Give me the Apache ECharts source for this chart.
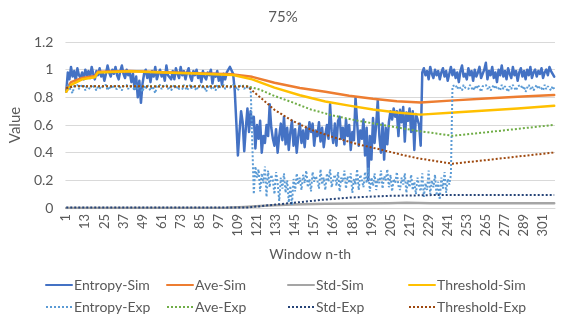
<!DOCTYPE html>
<html>
<head>
<meta charset="utf-8">
<script src="https://cdn.jsdelivr.net/npm/echarts@6/dist/echarts.min.js"></script>
<style>html,body{margin:0;padding:0;background:#fff}#c{width:566px;height:323px}</style>
</head>
<body>
<div id="c"></div>
<script>
const N = 308;
const categories = Array.from({length: N}, (_, k) => String(k + 1));
const yTicks = [0, 0.2, 0.4, 0.6, 0.8, 1, 1.2];

const entropySim = [
0.84,0.98,0.93,1.02,0.95,0.99,0.92,1.01,0.96,0.94,
0.98,0.93,1.0,0.96,0.99,0.94,1.02,0.97,0.93,0.99,
0.96,1.01,0.95,0.98,0.92,0.97,1.03,0.98,0.95,1.0,
0.97,1.02,0.96,0.93,0.99,1.03,0.97,0.94,1.0,0.96,
0.98,0.91,0.97,0.86,0.95,0.8,0.92,0.76,0.9,0.97,
1.0,0.94,0.98,0.91,0.99,0.95,1.02,0.93,0.97,1.0,
0.95,0.98,0.92,1.03,0.96,0.97,0.93,0.99,0.93,1.01,0.97,0.94,
1.02,0.96,0.99,0.93,0.98,1.01,0.95,0.92,0.99,0.96,
1.0,0.94,0.97,0.91,0.99,0.95,0.93,0.98,0.96,1.0,0.9,0.97,
0.95,0.99,0.92,0.96,0.89,0.97,0.93,0.98,1.0,1.02,
1.03,0.97,0.85,0.62,
0.38,0.55,0.70,0.62,0.41,0.58,
0.72,0.55,0.70,0.60,0.66,0.43,0.60,0.50,0.63,0.40,
0.52,0.47,0.60,0.52,0.75,0.58,0.50,0.45,0.57,0.40,
0.52,0.61,0.49,0.66,0.46,0.58,0.42,0.55,0.63,0.45,
0.57,0.40,0.52,0.61,0.47,0.56,0.44,0.58,0.50,0.62,
0.55,0.61,0.45,0.56,0.52,0.62,0.48,0.58,0.44,0.53,
0.60,0.50,0.75,0.55,0.47,0.61,0.45,0.63,0.66,0.50,
0.58,0.46,0.64,0.52,0.60,0.42,0.55,0.49,0.80,0.62,
0.45,0.56,0.50,0.64,0.38,0.58,0.20,0.52,0.35,0.65,
0.47,0.60,0.78,0.52,0.40,0.61,0.35,0.58,0.46,0.62,
0.70,0.64,0.72,0.66,0.70,0.52,0.71,0.62,0.73,0.48,
0.69,0.63,0.72,0.55,0.70,0.42,0.68,0.64,0.60,0.45,
0.98,1.01,0.96,0.99,0.93,1.02,0.97,0.94,1.0,0.96,0.99,
0.93,0.98,1.01,0.95,0.99,0.92,0.97,1.02,0.96,1.0,
0.94,0.98,0.91,0.99,1.03,0.95,0.97,0.93,1.01,0.96,
0.99,0.92,1.0,0.95,0.98,1.02,0.94,0.97,1.0,1.05,
0.93,0.99,0.96,1.02,0.94,0.98,0.91,1.0,0.96,1.03,
0.95,0.99,0.93,1.01,0.97,0.94,1.02,0.96,0.99,0.92,
0.98,1.01,0.95,0.99,0.93,1.0,0.96,1.02,0.94,0.98,
1.0,0.95,0.99,0.97,1.01,0.94,0.98,1.0,0.96,1.02,
0.99,0.97,0.95
];

const entropyExp = [
0.86,0.89,0.88,0.85,0.83,0.88,0.87,0.89,0.86,0.88,
0.87,0.89,0.85,0.88,0.87,0.86,0.89,0.88,0.87,0.85,
0.88,0.89,0.86,0.88,0.87,0.89,0.85,0.88,0.86,0.89,
0.87,0.88,0.86,0.89,0.87,0.85,0.88,0.87,0.89,0.86,0.88,
0.88,0.87,0.85,0.89,0.86,0.88,0.87,0.84,0.88,0.86,
0.89,0.87,0.85,0.88,0.86,0.83,0.88,0.87,0.89,0.86,
0.88,0.87,0.89,0.86,0.88,0.85,0.87,0.89,0.86,0.88,0.86,
0.87,0.86,0.89,0.88,0.85,0.87,0.89,0.86,0.88,0.87,
0.85,0.88,0.87,0.89,0.86,0.88,0.84,0.87,0.89,0.86,
0.88,0.87,0.85,0.89,0.86,0.88,0.87,0.89,0.86,0.88,0.87,
0.87,0.86,0.89,0.88,0.87,0.85,0.88,0.87,0.89,0.86,
0.88,0.87,0.86,0.88,0.87,
0.10,0.30,0.22,0.28,0.12,0.25,0.18,0.30,0.08,0.27,
0.15,0.24,0.20,0.10,0.26,0.18,0.05,0.22,0.14,0.25,
0.11,0.20,0.04,0.16,0.02,0.21,0.12,0.25,0.17,0.22,
0.13,0.24,0.18,0.27,0.15,0.21,0.12,0.26,0.19,0.23,0.20,
0.14,0.28,0.17,0.22,0.13,0.25,0.19,0.28,0.15,0.21,
0.24,0.16,0.26,0.12,0.22,0.19,0.27,0.14,0.23,0.18,
0.25,0.11,0.21,0.17,0.28,0.13,0.24,0.20,0.15,0.26,
0.18,0.29,0.12,0.22,0.16,0.25,0.13,0.21,0.18,0.27,
0.14,0.23,0.20,0.28,0.15,0.24,0.12,0.21,0.18,0.26,0.16,
0.13,0.22,0.17,0.25,0.11,0.20,0.15,0.24,0.13,0.19,
0.10,0.22,0.16,0.12,0.25,0.08,0.18,0.13,0.27,0.10,
0.20,0.15,0.24,0.09,0.19,0.06,0.22,0.14,0.26,0.11,
0.21,0.17,0.24,
0.88,0.87,0.89,0.86,0.88,0.87,0.85,0.89,0.87,0.88,
0.86,0.89,0.87,0.85,0.88,0.86,0.89,0.87,0.84,0.88,
0.87,0.89,0.86,0.88,0.85,0.87,0.89,0.86,0.88,0.87,
0.85,0.89,0.86,0.88,0.87,0.84,0.88,0.86,0.89,0.87,
0.85,0.88,0.87,0.89,0.86,0.88,0.84,0.87,0.89,0.86,
0.88,0.85,0.87,0.89,0.86,0.88,0.87,0.85,0.89,0.86,
0.88,0.87,0.85,0.88,0.86
];

// knot points [window index, value]
const aveSim = [[1,0.86],[4,0.91],[11,0.94],[19,0.955],[21,0.985],[41,0.99],[62,0.982],[82,0.975],[106,0.966],[118,0.948],[132,0.905],[148,0.868],[164,0.84],[179,0.812],[194,0.79],[209,0.772],[224,0.762],[245,0.778],[265,0.792],[285,0.804],[308,0.817]];
const thresholdSim = [[1,0.84],[4,0.89],[11,0.93],[19,0.945],[21,0.98],[41,0.988],[62,0.98],[82,0.972],[106,0.962],[118,0.93],[132,0.87],[148,0.815],[164,0.77],[179,0.74],[194,0.712],[209,0.69],[224,0.675],[245,0.69],[265,0.705],[285,0.72],[308,0.739]];
const stdSim = [[1,0.0],[102,0.002],[113,0.008],[128,0.018],[143,0.026],[164,0.031],[204,0.035],[215,0.038],[230,0.035],[308,0.034]];
const aveExp = [[1,0.865],[6,0.88],[115,0.88],[123,0.855],[132,0.81],[143,0.765],[155,0.712],[169,0.668],[184,0.632],[199,0.602],[212,0.577],[222,0.557],[233,0.54],[244,0.522],[265,0.547],[285,0.572],[308,0.601]];
const stdExp = [[1,0.003],[115,0.003],[126,0.017],[141,0.034],[161,0.058],[179,0.075],[204,0.088],[235,0.094],[308,0.094]];
const thresholdExp = [[1,0.865],[6,0.88],[115,0.878],[123,0.8],[132,0.71],[143,0.632],[155,0.566],[169,0.512],[184,0.462],[199,0.422],[212,0.385],[222,0.36],[233,0.34],[244,0.32],[265,0.346],[285,0.372],[308,0.401]];

const seriesNames = ['Entropy-Sim','Ave-Sim','Std-Sim','Threshold-Sim','Entropy-Exp','Ave-Exp','Std-Exp','Threshold-Exp'];
const seriesColors = ['#4472C4','#ED7D31','#A5A5A5','#FFC000','#5B9BD5','#70AD47','#264478','#9E480E'];

const knot = arr => arr.map(([i, v]) => [i - 1, v]);
const dataList = [entropySim, knot(aveSim), knot(stdSim), knot(thresholdSim), entropyExp, knot(aveExp), knot(stdExp), knot(thresholdExp)];

const FONT = 'Lato, "Open Sans", sans-serif';
const TXT = '#595959';

const series = seriesNames.map((name, k) => {
  const dotted = k >= 4;
  return {
    name, type: 'line', data: dataList[k], showSymbol: false, symbol: 'none',
    smooth: false, animation: false,
    lineStyle: dotted ? {color: seriesColors[k], width: 2, type: [2, 2], cap: 'butt'}
                      : {color: seriesColors[k], width: 2.5, cap: 'round', join: 'round'},
    itemStyle: {color: seriesColors[k]}
  };
});

const legendLeft = [45, 166, 287, 408];
const legendTop = [278, 300];
const legends = seriesNames.map((name, k) => ({
  data: [name], left: legendLeft[k % 4], top: legendTop[Math.floor(k / 4)],
  padding: 0, itemWidth: 26, itemHeight: 14, itemGap: 0,
  itemStyle: {opacity: 0},
  textStyle: {fontFamily: FONT, fontSize: 14, color: TXT, padding: [0, 0, 0, -3]},
  selectedMode: false
}));

const chart = echarts.init(document.getElementById('c'), null, {renderer: 'canvas'});
chart.setOption({
  animation: false,
  backgroundColor: '#fff',
  title: {text: '75%', left: 'center', top: 5, textStyle: {fontFamily: FONT, fontSize: 15, fontWeight: 'normal', color: TXT}},
  legend: legends,
  grid: {left: 62, right: 11, top: 42, bottom: 115},
  xAxis: {
    type: 'category', data: categories, boundaryGap: true,
    name: 'Window n-th', nameLocation: 'middle', nameGap: 39,
    nameTextStyle: {fontFamily: FONT, fontSize: 14, color: TXT},
    axisLine: {show: true, lineStyle: {color: '#D9D9D9'}},
    axisTick: {show: false},
    axisLabel: {interval: 11, rotate: 90, fontFamily: FONT, fontSize: 13, color: TXT, margin: 6}
  },
  yAxis: {
    type: 'value', min: yTicks[0], max: yTicks[yTicks.length - 1], interval: 0.2,
    name: 'Value', nameLocation: 'middle', nameGap: 38, nameRotate: 90,
    nameTextStyle: {fontFamily: FONT, fontSize: 15, color: TXT},
    axisLine: {show: false}, axisTick: {show: false},
    axisLabel: {fontFamily: FONT, fontSize: 14, color: TXT, margin: 12},
    splitLine: {lineStyle: {color: '#D9D9D9', width: 1}}
  },
  series
});
</script>
</body>
</html>
